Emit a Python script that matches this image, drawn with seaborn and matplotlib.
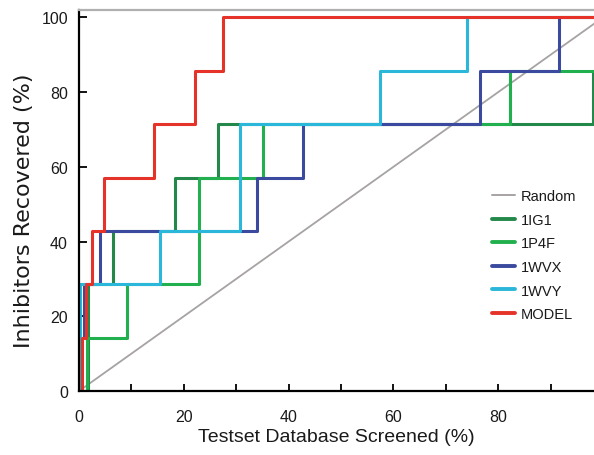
import numpy as np
import pandas as pd
import matplotlib
matplotlib.use("Agg")
import matplotlib.pyplot as plt
import seaborn as sns
from matplotlib.ticker import FixedLocator, FuncFormatter
from matplotlib.lines import Line2D

sns.set_style("white")
plt.rcParams['font.family'] = ['Liberation Sans', 'DejaVu Sans']

# ---- data ----
series_names = ["1IG1", "1P4F", "1WVX", "1WVY", "MODEL"]

x_1ig1 = [0, 1.7, 6.4, 18.3, 26.6, 98.2, 100]
y_1ig1 = [0, 28.57, 42.86, 57.14, 71.43, 85.71, 85.71]

x_1p4f = [0, 1.6, 9.2, 23.0, 35.2, 82.3, 100]
y_1p4f = [0, 14.29, 28.57, 57.14, 71.43, 85.71, 85.71]

x_1wvx = [0, 0.1, 0.9, 4.0, 33.9, 42.7, 76.5, 91.6, 100]
y_1wvx = [0, 14.29, 28.57, 42.86, 57.14, 71.43, 85.71, 100, 100]

x_1wvy = [0, 0.2, 15.5, 30.7, 57.4, 74.0, 100]
y_1wvy = [0, 28.57, 42.86, 71.43, 85.71, 100, 100]

x_model = [0, 0.5, 1.3, 2.4, 4.8, 14.3, 22.1, 27.5, 100]
y_model = [0, 14.29, 28.57, 42.86, 57.14, 71.43, 85.71, 100, 100]

x_random = [0, 100]
y_random = [0, 100]

x_ticks = [0, 10, 20, 30, 40, 50, 60, 70, 80, 90]
y_ticks = [0, 20, 40, 60, 80, 100]

colors = {"Random": "#a6a3a2", "1IG1": "#23884a", "1P4F": "#22b04e",
          "1WVX": "#3b4a9e", "1WVY": "#2bb7d9", "MODEL": "#e6332a"}

xs = [x_1ig1, x_1p4f, x_1wvx, x_1wvy, x_model]
ys = [y_1ig1, y_1p4f, y_1wvx, y_1wvy, y_model]
df = pd.concat([pd.DataFrame({"x": x, "y": y, "series": n})
                for n, x, y in zip(series_names, xs, ys)], ignore_index=True)
df_rand = pd.DataFrame({"x": x_random, "y": y_random, "series": "Random"})

fig = plt.figure(figsize=(5.94, 4.56), dpi=100)
ax = fig.add_axes([79/594, 1 - 392/456, 1 - 79/594, (392 - 11)/456])

sns.lineplot(data=df_rand, x="x", y="y", hue="series", palette=colors,
             estimator=None, sort=False, linewidth=1.3, ax=ax, legend=False)
for n in series_names:
    sub = df[df["series"] == n]
    sns.lineplot(data=sub, x="x", y="y", color=colors[n], estimator=None,
                 sort=False, linewidth=2.2, drawstyle="steps-post", ax=ax,
                 legend=False)

ax.set_xlim(0, 98.3)
ax.set_ylim(0, 102)

ax.xaxis.set_major_locator(FixedLocator(x_ticks))
ax.xaxis.set_major_formatter(FuncFormatter(lambda v, p: f"{int(v)}" if int(v) % 20 == 0 else ""))
ax.yaxis.set_major_locator(FixedLocator(y_ticks))
ax.tick_params(axis="x", direction="in", length=5, width=1.3, color="black",
               bottom=True, pad=13, labelsize=11.5, labelcolor="#1a1a1a")
ax.tick_params(axis="y", direction="in", length=6, width=1.3, color="black",
               left=True, pad=8, labelsize=11.5, labelcolor="#1a1a1a")

for s in ["left", "bottom"]:
    ax.spines[s].set_color("black")
    ax.spines[s].set_linewidth(1.6)
ax.spines["top"].set_color("#b0b0b0")
ax.spines["top"].set_linewidth(1.6)
ax.spines["right"].set_visible(False)

ax.set_xlabel("Testset Database Screened (%)", fontsize=14, color="#1a1a1a", labelpad=3)
ax.set_ylabel("Inhibitors Recovered (%)", fontsize=16, color="#1a1a1a",
              family=["DejaVu Sans"])
ax.yaxis.set_label_coords(-0.088, 0.475)

handles = [Line2D([], [], color=colors["Random"], lw=1.4)] + \
          [Line2D([], [], color=colors[n], lw=2.8) for n in series_names]
labels = ["Random"] + series_names
ax.legend(handles, labels, loc="upper left", bbox_to_anchor=(0.802, 0.53),
          frameon=False, fontsize=10.5, handlelength=1.6, handletextpad=0.35,
          labelspacing=0.66, borderpad=0, borderaxespad=0, labelcolor="#1a1a1a")

fig.savefig("out.png", dpi=100)
